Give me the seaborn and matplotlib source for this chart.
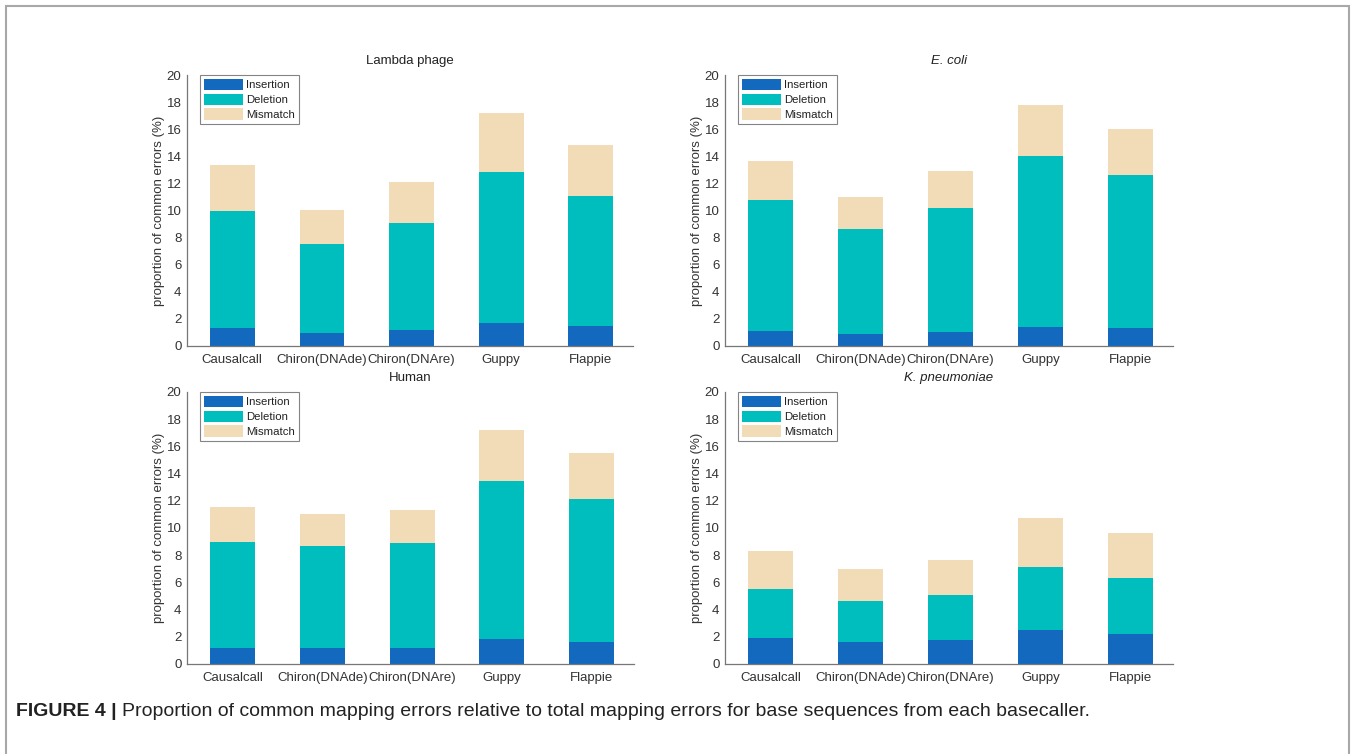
import numpy as np
import pandas as pd
import matplotlib
matplotlib.use("Agg")
import matplotlib.pyplot as plt
import matplotlib.patches as mpatches
import seaborn as sns

# ---- data ----
basecallers = ["Causalcall", "Chiron(DNAde)", "Chiron(DNAre)", "Guppy", "Flappie"]
error_types = ["Insertion", "Deletion", "Mismatch"]
panel_titles = ["Lambda phage", "E. coli", "Human", "K. pneumoniae"]
title_italic = [False, True, False, True]

lambda_ins = [1.30, 0.98, 1.18, 1.67, 1.50]
lambda_del = [8.70, 6.52, 7.87, 11.15, 9.55]
lambda_mis = [3.36, 2.56, 3.08, 4.40, 3.76]

ecoli_ins = [1.10, 0.88, 1.06, 1.42, 1.30]
ecoli_del = [9.70, 7.76, 9.10, 12.59, 11.31]
ecoli_mis = [2.84, 2.35, 2.72, 3.78, 3.39]

human_ins = [1.18, 1.18, 1.18, 1.82, 1.62]
human_del = [7.80, 7.46, 7.70, 11.60, 10.50]
human_mis = [2.53, 2.38, 2.46, 3.81, 3.39]

kpn_ins = [1.94, 1.62, 1.77, 2.50, 2.21]
kpn_del = [3.56, 3.04, 3.29, 4.62, 4.15]
kpn_mis = [2.82, 2.33, 2.57, 3.65, 3.28]

y_ticks = [0, 2, 4, 6, 8, 10, 12, 14, 16, 18, 20]
y_label = "proportion of common errors (%)"
caption_bold = "FIGURE 4 |"
caption_text = "Proportion of common mapping errors relative to total mapping errors for base sequences from each basecaller."

panels = [
    (lambda_ins, lambda_del, lambda_mis),
    (ecoli_ins, ecoli_del, ecoli_mis),
    (human_ins, human_del, human_mis),
    (kpn_ins, kpn_del, kpn_mis),
]

colors = {"Insertion": "#1369BE", "Deletion": "#00BEBE", "Mismatch": "#F2DCB8"}

sns.set_theme(style="white")
plt.rcParams["font.family"] = ["Liberation Sans", "DejaVu Sans"]

W, H = 1352, 754
fig = plt.figure(figsize=(W / 100, H / 100), dpi=100)

# axes boxes in pixels: (left, right, top, bottom)
boxes = [(187, 633, 75, 346), (725, 1173, 75, 346),
         (187, 634, 392, 664), (725, 1173, 392, 664)]

for i, ((ins, dele, mis), (x0, x1, yt, yb)) in enumerate(zip(panels, boxes)):
    ax = fig.add_axes([x0 / W, 1 - yb / H, (x1 - x0) / W, (yb - yt) / H])
    df = pd.DataFrame({"basecaller": basecallers,
                       "Insertion": ins, "Deletion": dele, "Mismatch": mis})
    df["lvl1"] = df["Insertion"]
    df["lvl2"] = df["Insertion"] + df["Deletion"]
    df["lvl3"] = df["lvl2"] + df["Mismatch"]
    for col, et in [("lvl3", "Mismatch"), ("lvl2", "Deletion"), ("lvl1", "Insertion")]:
        sns.barplot(data=df, x="basecaller", y=col, order=basecallers,
                    color=colors[et], saturation=1, width=0.5, ax=ax,
                    linewidth=0, errorbar=None)
    ax.set_xlim(-0.505, 4.47)
    ax.set_ylim(0, 20)
    ax.set_yticks(y_ticks)
    ax.set_yticklabels([str(t) for t in y_ticks])
    ax.set_xlabel("")
    ax.set_ylabel(y_label, fontsize=9.5, color="#333333")
    ax.yaxis.set_label_coords(-0.049, 0.5)
    ax.tick_params(axis="y", direction="in", length=3, width=0.8, colors="#555555",
                   labelcolor="#333333", labelsize=9.5, pad=4)
    ax.tick_params(axis="x", length=0, labelcolor="#333333", labelsize=9.5, pad=6)
    for s in ["top", "right"]:
        ax.spines[s].set_visible(False)
    for s in ["left", "bottom"]:
        ax.spines[s].set_color("#777777")
        ax.spines[s].set_linewidth(0.9)
    ax.set_title(panel_titles[i], fontsize=9.5, color="#222222", pad=8,
                 fontstyle="italic" if title_italic[i] else "normal")
    handles = [mpatches.Patch(facecolor=colors[et], edgecolor="none", label=et)
               for et in error_types]
    leg = ax.legend(handles=handles, loc="upper left", bbox_to_anchor=(0.029, 1.0),
                    borderaxespad=0, fontsize=8.2, frameon=True, fancybox=False,
                    edgecolor="#666666", handlelength=3.4, handleheight=1.15,
                    handletextpad=0.3, labelspacing=0.28, borderpad=0.35)
    leg.get_frame().set_linewidth(0.8)
    for t in leg.get_texts():
        t.set_color("#222222")

# outer frame
fig.add_artist(mpatches.Rectangle((6 / W, -0.05), (1349 - 6) / W, 1.05 - 6 / H,
                                  transform=fig.transFigure, fill=False,
                                  edgecolor="#a8a8a8", linewidth=1.5, clip_on=False))

# caption
t1 = fig.text(16 / W, 1 - 711 / H, caption_bold, fontsize=14, fontweight="bold",
              color="#222222", va="center", ha="left")
fig.canvas.draw()
bb = t1.get_window_extent()
fig.text((bb.x1 + 5) / W, 1 - 711 / H, caption_text, fontsize=14,
         color="#222222", va="center", ha="left")

fig.savefig("out.png", dpi=100)
